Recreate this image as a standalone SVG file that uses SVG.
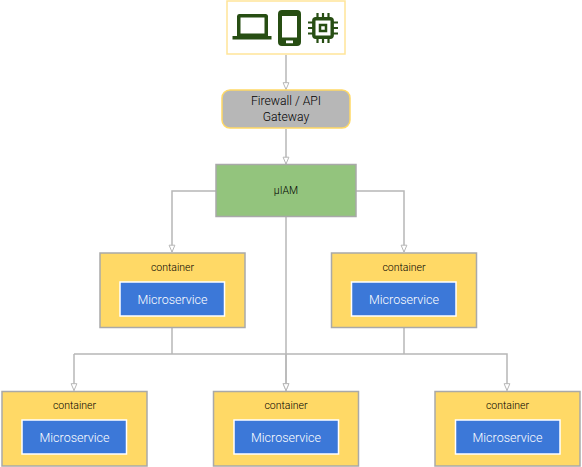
<svg xmlns="http://www.w3.org/2000/svg" width="582" height="467" viewBox="0 0 582 467">
<style>
.t{font-family:"Roboto","Liberation Sans",sans-serif;text-anchor:middle}
.l{font-weight:300}
.c{fill:#ffd966;stroke:#a9a9a9;stroke-width:1.5}
.m{fill:#3c78d8;stroke:#fff;stroke-width:1.5}
.w{fill:#fff;font-size:12.5px}
.b{fill:#000;font-size:10.5px;font-weight:300}
.e{fill:none;stroke:#b7b7b7;stroke-width:1.5}
.i{fill:#274e13}
</style>
<defs>
<marker id="a" markerUnits="userSpaceOnUse" markerWidth="9" markerHeight="9" refX="8" refY="4.500" orient="auto" viewBox="0 0 9 9"><path d="M8 4.500L1.200 1.600V7.400Z" fill="#fff" stroke="#b7b7b7" stroke-width="1"/></marker>
</defs>
<g id="connectors">
<path class="e" d="M286 55V89.500" marker-end="url(#a)"/>
<path class="e" d="M286 129V164" marker-end="url(#a)"/>
<path class="e" d="M216 191H172V252" marker-end="url(#a)"/>
<path class="e" d="M356 191H404V252" marker-end="url(#a)"/>
<path class="e" d="M286 217V390.500" marker-end="url(#a)"/>
<path class="e" d="M172 316V354"/>
<path class="e" d="M404 316V354"/>
<path class="e" d="M74 354H507V390.500" marker-end="url(#a)"/>
<path class="e" d="M74 354V390.500" marker-end="url(#a)"/>
<path class="e" d="M286 354V390.500" marker-end="url(#a)"/>
</g>
<g id="clients">
<rect x="227" y="1" width="118" height="53" fill="#fff" stroke="#ffe599" stroke-width="1.500"/>
<path class="i" fill-rule="evenodd" d="M239 14H265.500Q268 14 268 16.500V36H271.500V39.500H232.500V36H237V16.500Q237 14 239 14ZM240.500 17.500V33.500H264.500V17.500Z"/>
<path class="i" fill-rule="evenodd" d="M282 10H297Q301 10 301 14V42Q301 46 297 46H282Q278 46 278 42V14Q278 10 282 10ZM282 16V37.500H297V16ZM286 40.500V43.300H293V40.500Z"/>
<g fill="none" stroke="#274e13">
<rect x="313.800" y="18.800" width="18.400" height="18.400" rx="2" stroke-width="3.400"/>
<rect x="320" y="25" width="6" height="6" stroke-width="2.500"/>
<path stroke-width="2.200" d="M317.500 13V18M323 13V18M328.500 13V18M317.500 38V43M323 38V43M328.500 38V43M308 22.500H313M308 28H313M308 33.500H313M333 22.500H338M333 28H338M333 33.500H338"/>
</g>
</g>
<g id="firewall">
<rect x="222" y="90" width="128" height="38" rx="8" fill="#b7b7b7" stroke="#ffd966" stroke-width="1.500"/>
<text class="t l" x="286" y="105" font-size="12.200" fill="#000">Firewall / API</text>
<text class="t l" x="286" y="121" font-size="12.200" fill="#000">Gateway</text>
</g>
<g id="iam">
<rect x="216" y="164.500" width="140" height="52" fill="#93c47d" stroke="#a9a9a9" stroke-width="1.500"/>
<text class="t b" x="286" y="194">µIAM</text>
</g>
<g id="c1"><rect class="c" x="100" y="253" width="145" height="74.500"/><text class="t b" x="172.500" y="270.500">container</text><rect class="m" x="120" y="282" width="104.500" height="34"/><text class="t l w" x="172.500" y="304">Microservice</text></g>
<g id="c2"><rect class="c" x="331.500" y="253" width="145" height="74.500"/><text class="t b" x="404" y="270.500">container</text><rect class="m" x="351.500" y="282" width="104.500" height="34"/><text class="t l w" x="404" y="304">Microservice</text></g>
<g id="c3"><rect class="c" x="2" y="391.500" width="145" height="74.500"/><text class="t b" x="74.500" y="408.500">container</text><rect class="m" x="22" y="420" width="104.500" height="34"/><text class="t l w" x="74.500" y="442">Microservice</text></g>
<g id="c4"><rect class="c" x="213.500" y="391.500" width="145" height="74.500"/><text class="t b" x="286" y="408.500">container</text><rect class="m" x="234" y="420" width="104.500" height="34"/><text class="t l w" x="286" y="442">Microservice</text></g>
<g id="c5"><rect class="c" x="435" y="391.500" width="145" height="74.500"/><text class="t b" x="507.500" y="408.500">container</text><rect class="m" x="455.500" y="420" width="104.500" height="34"/><text class="t l w" x="507.500" y="442">Microservice</text></g>
</svg>
